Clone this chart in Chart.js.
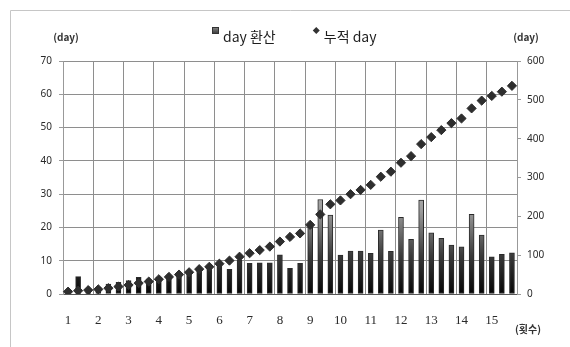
<!DOCTYPE html>
<html>
<head>
<meta charset="utf-8">
<script src="https://cdn.jsdelivr.net/npm/chart.js@4.4.1/dist/chart.umd.min.js"></script>
<style>
  html, body { margin: 0; padding: 0; background: #fff; }
  #wrap { width: 570px; height: 347px; }
</style>
</head>
<body>
<div id="wrap"><canvas id="c" width="570" height="347"></canvas></div>
<script>
// Round numbers shown under the x axis; each round spans three measurements.
const roundLabels = ['1', '2', '3', '4', '5', '6', '7', '8', '9', '10', '11', '12', '13', '14', '15'];
const stepsPerRound = 3;

// Converted days per measurement (left axis).
const dailyDays = [
  1, 5.2, 1.5, 2, 3, 3.5, 4, 5, 4.5, 5,
  5.2, 6.2, 6.7, 7.2, 8.2, 8.5, 7.4, 10.2, 9.2, 9.4,
  9.4, 11.8, 7.7, 9.2, 20, 28.4, 23.7, 11.7, 12.9, 12.9,
  12.2, 19.2, 12.8, 23, 16.4, 28.2, 18.4, 16.7, 14.7, 14.2,
  23.9, 17.7, 11.2, 11.9, 12.4
];

// Accumulated days (right axis).
const cumulativeDays = [
  6, 8.5, 10, 12, 15, 19, 23, 28, 32, 38,
  44, 50, 56, 64, 70, 78, 86, 96, 105, 113,
  122, 135, 147, 156, 178, 205, 231, 241, 257, 268,
  281, 302, 315, 338, 355, 386, 404, 422, 440, 452,
  478, 498, 510, 521, 536
];

const seriesNames = ['day 환산', '누적 day'];
const leftAxis = { min: 0, max: 70, step: 10 };
const rightAxis = { min: 0, max: 600, step: 100 };
const unitLabel = '(day)';
const roundUnitLabel = '(횟수)';

// One category per measurement; only the first of each round carries its number.
const xLabels = dailyDays.map((_, i) => (i % stepsPerRound === 0 ? roundLabels[i / stepsPerRound] : ''));

function barFill(ctx) {
  const chart = ctx.chart;
  const a = chart.chartArea;
  if (!a) return '#666';
  const g = chart.ctx.createLinearGradient(0, a.bottom, 0, a.bottom - 110);
  g.addColorStop(0, '#050505');
  g.addColorStop(0.35, '#3a3a3a');
  g.addColorStop(0.75, '#9a9a9a');
  g.addColorStop(1, '#b4b4b4');
  return g;
}

// White page with the chart frame's top and left edges.
const framePlugin = {
  id: 'frame',
  beforeDraw(chart) {
    const c = chart.ctx;
    c.save();
    c.fillStyle = '#fff';
    c.fillRect(0, 0, chart.width, chart.height);
    c.strokeStyle = '#c6c6c6';
    c.lineWidth = 1;
    c.beginPath();
    c.moveTo(10.5, chart.height);
    c.lineTo(10.5, 10.5);
    c.lineTo(chart.width, 10.5);
    c.stroke();
    c.restore();
  }
};

// Legend row and unit captions.
const captionPlugin = {
  id: 'captions',
  afterDraw(chart) {
    const c = chart.ctx;
    const a = chart.chartArea;
    c.save();
    c.textBaseline = 'middle';

    // legend, one entry per dataset in dataset order
    c.font = '14px "Noto Sans CJK KR", "Noto Sans", sans-serif';
    let x = 212;
    const y = 37;
    chart.data.datasets.forEach((ds) => {
      if (ds.type === 'bar') {
        const g = c.createLinearGradient(0, y - 10, 0, y - 2);
        g.addColorStop(0, '#8a8a8a');
        g.addColorStop(1, '#2a2a2a');
        c.fillStyle = g;
        c.fillRect(x, y - 10, 7, 7);
        c.strokeStyle = '#333';
        c.strokeRect(x + 0.5, y - 9.5, 6, 6);
      } else {
        c.fillStyle = '#333';
        c.beginPath();
        c.moveTo(x + 3.5, y - 10);
        c.lineTo(x + 7, y - 6.5);
        c.lineTo(x + 3.5, y - 3);
        c.lineTo(x, y - 6.5);
        c.closePath();
        c.fill();
      }
      c.fillStyle = '#1e1e1e';
      c.textAlign = 'left';
      c.fillText(ds.label, x + 11, y);
      x += 11 + c.measureText(ds.label).width + 37;
    });

    // axis units
    c.fillStyle = '#333';
    c.textAlign = 'center';
    c.font = 'bold 10px "Noto Sans CJK KR", "Noto Sans", sans-serif';
    c.fillText(unitLabel, a.left + 3, 37);
    c.fillText(unitLabel, a.right + 9, 37);
    c.fillText(roundUnitLabel, a.right + 11, 329);
    c.restore();
  }
};

new Chart(document.getElementById('c'), {
  data: {
    labels: xLabels,
    datasets: [
      {
        type: 'bar',
        label: seriesNames[0],
        data: dailyDays,
        yAxisID: 'y',
        backgroundColor: barFill,
        borderColor: '#2a2a2a',
        borderWidth: 1,
        borderSkipped: false,
        barThickness: 5,
        order: 1
      },
      {
        type: 'line',
        label: seriesNames[1],
        data: cumulativeDays,
        yAxisID: 'y2',
        showLine: false,
        pointStyle: 'rectRot',
        pointRadius: 4.6,
        pointBackgroundColor: '#2e2e2e',
        pointBorderColor: '#2e2e2e',
        pointBorderWidth: 1,
        order: 0
      }
    ]
  },
  options: {
    responsive: false,
    animation: false,
    layout: { padding: { top: 61, left: 0, right: 0, bottom: 0 } },
    plugins: {
      legend: { display: false },
      tooltip: { enabled: false }
    },
    scales: {
      x: {
        type: 'category',
        offset: true,
        afterFit(s) { s.height = 53; },
        grid: {
          offset: true,
          drawTicks: false,
          color: (ctx) => (ctx.index % stepsPerRound === 0 ? '#8e8e8e' : 'rgba(0,0,0,0)'),
          lineWidth: 1
        },
        border: { color: '#555', width: 1 },
        ticks: {
          autoSkip: false,
          maxRotation: 0,
          padding: 19,
          color: '#2a2a2a',
          font: { family: '"Liberation Serif", serif', size: 13 },
          callback: (v, i) => xLabels[i]
        }
      },
      y: {
        position: 'left',
        min: leftAxis.min,
        max: leftAxis.max,
        afterFit(s) { s.width = 63; },
        grid: { color: '#8e8e8e', tickColor: '#9a9a9a', tickLength: 4, lineWidth: 1 },
        border: { color: '#999' },
        ticks: {
          stepSize: leftAxis.step,
          padding: 7,
          color: '#2a2a2a',
          font: { family: '"Noto Sans", sans-serif', size: 10 }
        }
      },
      y2: {
        position: 'right',
        min: rightAxis.min,
        max: rightAxis.max,
        afterFit(s) { s.width = 53; },
        grid: { drawOnChartArea: false, tickColor: '#9a9a9a', tickLength: 4 },
        border: { color: '#999' },
        ticks: {
          stepSize: rightAxis.step,
          padding: 6,
          color: '#2a2a2a',
          font: { family: '"Noto Sans", sans-serif', size: 10 }
        }
      }
    }
  },
  plugins: [framePlugin, captionPlugin]
});
</script>
</body>
</html>
